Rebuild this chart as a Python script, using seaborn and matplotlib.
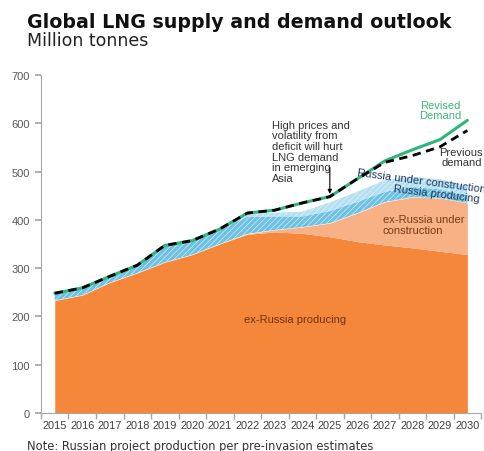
import numpy as np
import pandas as pd
import matplotlib
matplotlib.use("Agg")
import matplotlib.pyplot as plt
import seaborn as sns

# ---------------- data ----------------
years = list(range(2015, 2031))
ex_russia_producing = [233, 244, 270, 290, 312, 328, 350, 370, 375, 372, 365, 355, 348, 342, 335, 328]
ex_russia_under_construction = [0, 0, 0, 0, 0, 0, 0, 1, 4, 13, 28, 59, 89, 105, 110, 107]
russia_producing = [13, 15, 14, 16, 34, 29, 31, 35, 28, 22, 25, 23, 21, 21, 18, 16]
russia_under_construction = [0, 0, 0, 0, 0, 0, 0, 6, 8, 10, 18, 21, 24, 21, 21, 20]
revised_demand = [248, 259, 283, 306, 347, 357, 381, 414, 420, 435, 448, 485, 522, 545, 566, 606]
previous_demand = [248, 259, 283, 306, 347, 357, 381, 414, 420, 435, 448, 485, 519, 533, 551, 585]
y_ticks = [0, 100, 200, 300, 400, 500, 600, 700]

df = pd.DataFrame({
    "year": years,
    "ex_prod": ex_russia_producing,
    "ex_uc": ex_russia_under_construction,
    "ru_prod": russia_producing,
    "ru_uc": russia_under_construction,
    "revised": revised_demand,
    "previous": previous_demand,
})

# ---------------- style ----------------
sns.set_theme(style="white")
plt.rcParams["font.family"] = ["Liberation Sans", "DejaVu Sans"]
plt.rcParams["hatch.linewidth"] = 0.45

fig = plt.figure(figsize=(4.85, 4.52), dpi=100)
ax = fig.add_axes([0.0845, 0.084, 0.9075, 0.748])

# stacked areas
layers = [
    ("ex_prod", "#F5873A", None, None),
    ("ex_uc", "#F8B085", None, None),
    ("ru_prod", "#6EC1E2", "//////", "#DDF1F9"),
    ("ru_uc", "#B6DFF1", "//////", "#E6F5FB"),
]
base = np.zeros(len(df))
for col, fc, hatch, ec in layers:
    top = base + df[col].to_numpy()
    ax.fill_between(df["year"], base, top, facecolor=fc,
                    edgecolor=ec if ec else fc, hatch=hatch, linewidth=0, zorder=1)
    base = top

# demand lines
sns.lineplot(data=df, x="year", y="revised", color="#2FB67A", linewidth=2.2, ax=ax, zorder=3)
sns.lineplot(data=df, x="year", y="previous", color="black", linewidth=2.0,
             linestyle=(0, (3, 2)), ax=ax, zorder=4)

# axes
ax.set_xlim(2014.5, 2030.5)
ax.set_ylim(0, 700)
ax.set_xlabel("")
ax.set_ylabel("")
ax.set_xticks(years)
ax.set_xticklabels([str(y) for y in years], fontsize=7.9, color="#404040")
ax.set_xticks(np.arange(2014.5, 2031, 1), minor=True)
ax.set_yticks(y_ticks)
ax.set_yticklabels([str(v) for v in y_ticks], fontsize=8, color="#595959")
ax.tick_params(axis="x", which="major", length=0, pad=5, bottom=True)
ax.tick_params(axis="x", which="minor", length=4, direction="out", color="#a6a6a6", bottom=True)
ax.tick_params(axis="y", which="major", length=4, direction="out", color="#a6a6a6", left=True, pad=4)
for s in ["top", "right"]:
    ax.spines[s].set_visible(False)
for s in ["left", "bottom"]:
    ax.spines[s].set_color("#a6a6a6")
    ax.spines[s].set_linewidth(0.8)
ax.grid(False)

# annotations
txt = dict(fontsize=8, clip_on=False)
ax.text(2022.89, 607, "High prices and\nvolatility from\ndeficit will hurt\nLNG demand\nin emerging\nAsia",
        ha="left", va="top", color="#333333", linespacing=1.08, **txt)
ax.annotate("", xy=(2025.0, 448), xytext=(2025.0, 514),
            arrowprops=dict(arrowstyle="-|>", color="black", lw=0.8, mutation_scale=6), zorder=5)
ax.text(2029.0, 627, "Revised\nDemand", ha="center", va="center", color="#3CB878",
        linespacing=1.05, **txt)
ax.text(2030.55, 530, "Previous\ndemand", ha="right", va="center", color="#333333",
        linespacing=1.05, **txt)
ax.text(2025.98, 493, "Russia under construction", ha="left", va="baseline", rotation=-7.5,
        rotation_mode="anchor", color="#1F3B63", **txt)
ax.text(2027.29, 460, "Russia producing", ha="left", va="baseline", rotation=-7,
        rotation_mode="anchor", color="#1F3B63", **txt)
ax.text(2026.93, 412, "ex-Russia under\nconstruction", ha="left", va="top", color="#7A3A16",
        linespacing=1.1, **txt)
ax.text(2023.73, 195, "ex-Russia producing", ha="center", va="center", color="#6B3415", **txt)

# titles and note
fig.text(27 / 485, 1 - 28 / 452, "Global LNG supply and demand outlook", fontsize=13.7,
         fontweight="bold", family="DejaVu Sans", color="#111111", ha="left", va="baseline")
fig.text(27 / 485, 1 - 46 / 452, "Million tonnes", fontsize=12.5, family="DejaVu Sans",
         color="#222222", ha="left", va="baseline")
fig.text(27 / 485, 2 / 452, "Note: Russian project production per pre-invasion estimates",
         fontsize=8.3, family="DejaVu Sans", color="#333333", ha="left", va="baseline")

fig.savefig("out.png", dpi=100, facecolor="white")
